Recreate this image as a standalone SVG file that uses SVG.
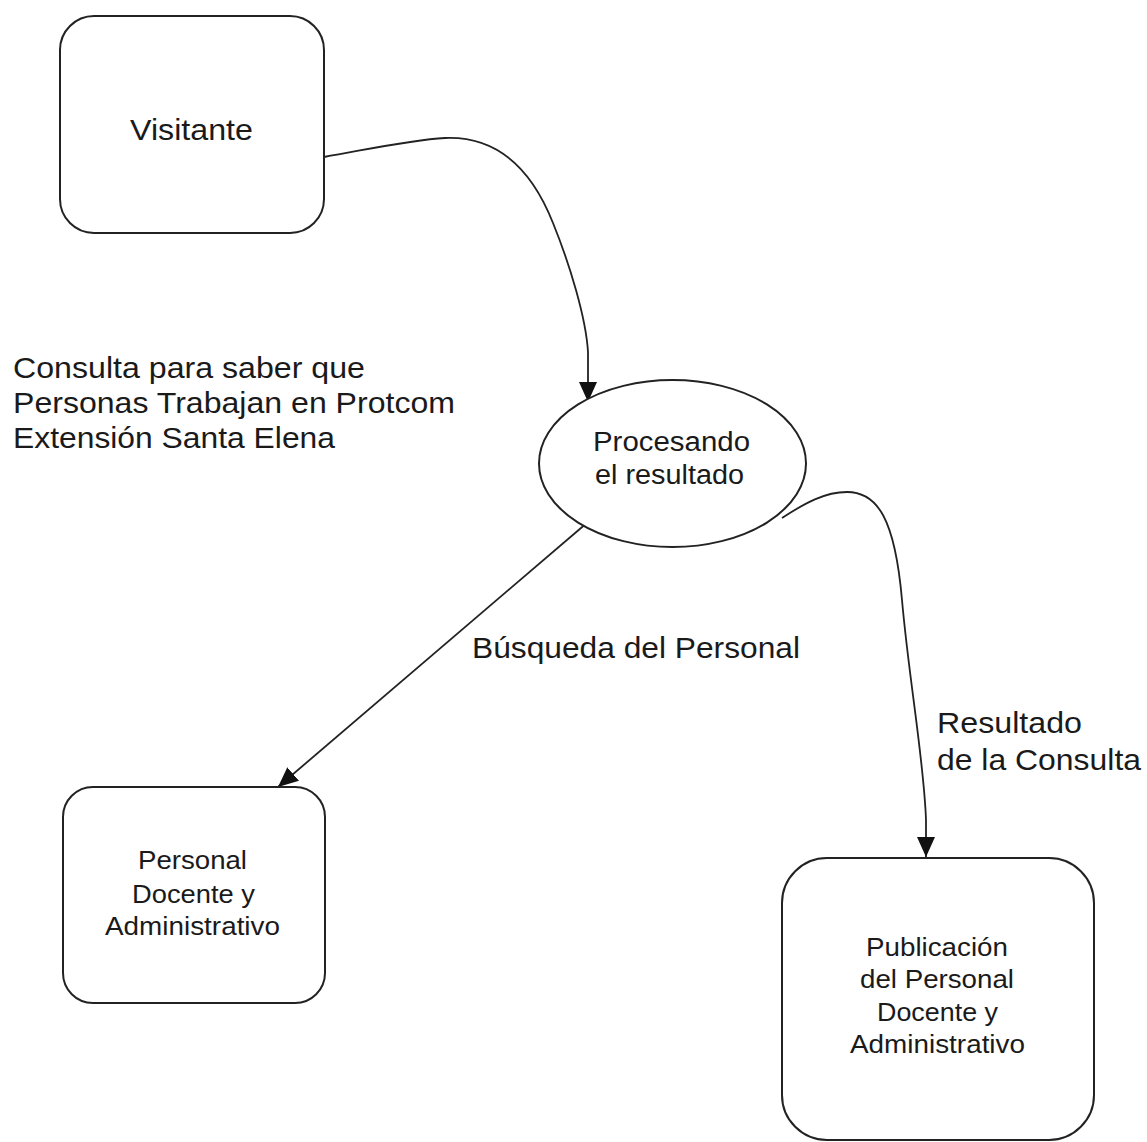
<svg xmlns="http://www.w3.org/2000/svg" width="1147" height="1142" viewBox="0 0 1147 1142">
  <style>
    .box { fill: #ffffff; stroke: #222222; stroke-width: 2; }
    .conn { fill: none; stroke: #222222; stroke-width: 1.8; }
    .t { font-family: "Liberation Sans", Arial, sans-serif; fill: #1a1a1a; }
    .big { font-size: 30px; }
    .mid { font-size: 27px; }
    .small { font-size: 26px; }
  </style>
  <defs>
    <marker id="arrow" viewBox="0 0 20 18" refX="20" refY="9" markerWidth="20" markerHeight="18" markerUnits="userSpaceOnUse" orient="auto">
      <path d="M0,0 L20,9 L0,18 z" fill="#111111"/>
    </marker>
  </defs>
  <rect width="1147" height="1142" fill="#ffffff"/>

  <g id="connectors">
    <path class="conn" d="M324,157 C 370,149 410,140 445,138 C 495,136 530,165 553,223 C 570,265 586,318 588,352 L 588,402" marker-end="url(#arrow)"/>
    <path class="conn" d="M588,522 L 278,787" marker-end="url(#arrow)"/>
    <path class="conn" d="M782,518 C 805,503 825,492 847,492 C 878,492 895,520 902,600 C 909,680 924,760 926,820 L 926,857" marker-end="url(#arrow)"/>
  </g>

  <g id="node-visitante">
    <rect class="box" x="60" y="16" width="264" height="217" rx="34" ry="34"/>
    <text class="t big" x="130" y="140" textLength="123" lengthAdjust="spacingAndGlyphs">Visitante</text>
  </g>

  <g id="label-consulta">
    <text class="t big" x="13" y="378" textLength="352" lengthAdjust="spacingAndGlyphs">Consulta para saber que</text>
    <text class="t big" x="13" y="413" textLength="442" lengthAdjust="spacingAndGlyphs">Personas Trabajan en Protcom</text>
    <text class="t big" x="13" y="448" textLength="322" lengthAdjust="spacingAndGlyphs">Extensión Santa Elena</text>
  </g>

  <g id="node-procesando">
    <ellipse class="box" cx="672.5" cy="463.5" rx="133.5" ry="83.5"/>
    <text class="t mid" x="593" y="451" textLength="157" lengthAdjust="spacingAndGlyphs">Procesando</text>
    <text class="t mid" x="595" y="484" textLength="149" lengthAdjust="spacingAndGlyphs">el resultado</text>
  </g>

  <g id="label-busqueda">
    <text class="t big" x="472" y="658" textLength="328" lengthAdjust="spacingAndGlyphs">Búsqueda del Personal</text>
  </g>

  <g id="label-resultado">
    <text class="t big" x="937" y="733" textLength="145" lengthAdjust="spacingAndGlyphs">Resultado</text>
    <text class="t big" x="937" y="770" textLength="204" lengthAdjust="spacingAndGlyphs">de la Consulta</text>
  </g>

  <g id="node-personal">
    <rect class="box" x="63" y="787" width="262" height="216" rx="30" ry="30"/>
    <text class="t small" x="138" y="869" textLength="109" lengthAdjust="spacingAndGlyphs">Personal</text>
    <text class="t small" x="132" y="903" textLength="123" lengthAdjust="spacingAndGlyphs">Docente y</text>
    <text class="t small" x="105" y="935" textLength="175" lengthAdjust="spacingAndGlyphs">Administrativo</text>
  </g>

  <g id="node-publicacion">
    <rect class="box" x="782" y="858" width="312" height="282" rx="45" ry="45"/>
    <text class="t small" x="866" y="956" textLength="142" lengthAdjust="spacingAndGlyphs">Publicación</text>
    <text class="t small" x="860" y="988" textLength="154" lengthAdjust="spacingAndGlyphs">del Personal</text>
    <text class="t small" x="877" y="1021" textLength="121" lengthAdjust="spacingAndGlyphs">Docente y</text>
    <text class="t small" x="850" y="1053" textLength="175" lengthAdjust="spacingAndGlyphs">Administrativo</text>
  </g>
</svg>
